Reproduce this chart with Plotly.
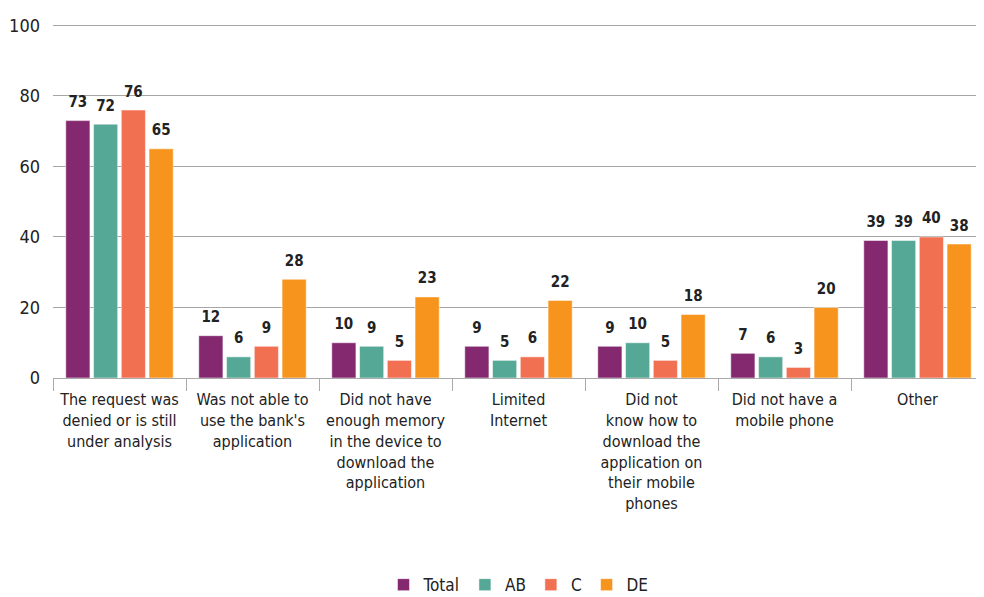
import plotly.graph_objects as go

categories = [
    "The request was<br>denied or is still<br>under analysis",
    "Was not able to<br>use the bank's<br>application",
    "Did not have<br>enough memory<br>in the device to<br>download the<br>application",
    "Limited<br>Internet",
    "Did not<br>know how to<br>download the<br>application on<br>their mobile<br>phones",
    "Did not have a<br>mobile phone",
    "Other",
]
total = [73, 12, 10, 9, 9, 7, 39]
ab = [72, 6, 9, 5, 10, 6, 39]
c = [76, 9, 5, 6, 5, 3, 40]
de = [65, 28, 23, 22, 18, 20, 38]

series = [("Total", total, "#84296F"), ("AB", ab, "#56A896"), ("C", c, "#F27052"), ("DE", de, "#F7941D")]

FONT = "DejaVu Sans Condensed, Liberation Sans Narrow, sans-serif"

fig = go.Figure()
for i, (name, vals, col) in enumerate(series):
    fig.add_trace(go.Bar(
        name=name, x=categories, y=vals, offsetgroup=str(i),
        marker=dict(color=col, line=dict(color="rgba(255,255,255,0.5)", width=1)),
        cliponaxis=False,
    ))
for i, (name, vals, col) in enumerate(series):
    fig.add_trace(go.Scatter(
        x=categories, y=vals, offsetgroup=str(i), mode="markers+text",
        text=[str(v) for v in vals], textposition="top center",
        marker=dict(size=14, opacity=0, color="white"),
        textfont=dict(family=FONT, size=15, color="#222222", weight="bold"),
        showlegend=False, hoverinfo="skip", cliponaxis=False,
    ))

# page body has an 8px margin, so the figure is sized to fit the 984x597 window
fig.update_layout(
    width=976, height=589,
    margin=dict(l=45, r=0, t=16, b=219, autoexpand=False),
    barmode="group", bargap=0.165, bargroupgap=0.13,
    scattermode="group", scattergap=0.165,
    plot_bgcolor="white", paper_bgcolor="white",
    font=dict(family=FONT, size=16, color="#222222"),
    showlegend=True,
    legend=dict(orientation="h", x=0.5, xanchor="center", y=-0.585, yanchor="middle",
                font=dict(family=FONT, size=17, color="#222222"),
                itemwidth=30, traceorder="normal"),
)
fig.update_xaxes(
    type="category", showline=True, linecolor="#AAAAAA", linewidth=1,
    ticks="outside", tickson="boundaries", ticklen=12, tickcolor="#AAAAAA",
    tickfont=dict(family=FONT, size=16, color="#222222"),
    showgrid=False, tickangle=0, automargin=False, ticklabelstandoff=7,
)
fig.update_yaxes(
    range=[0, 100.4], tickvals=[0, 20, 40, 60, 80, 100], showgrid=True, gridcolor="#A6A6A6", gridwidth=1,
    zeroline=False, showline=False, ticks="", ticklabelstandoff=12, automargin=False,
    tickfont=dict(family=FONT, size=18, color="#222222"),
)

fig.write_html("out.html")
